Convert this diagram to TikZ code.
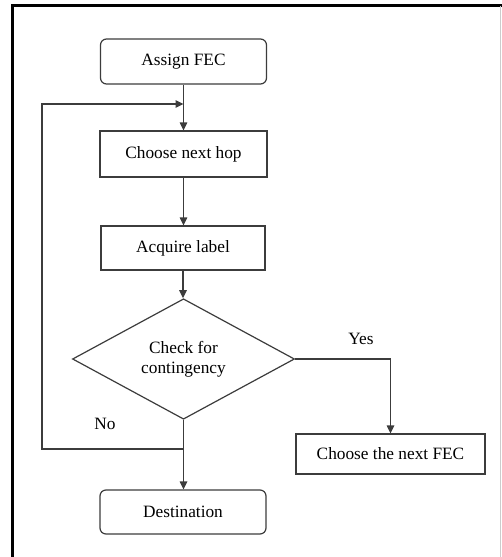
\documentclass[tikz,border=0pt]{standalone}
\usepackage{fontspec}
\setmainfont{Liberation Serif}
\usetikzlibrary{shapes.geometric, arrows.meta}
\definecolor{linegray}{HTML}{3c3c3c}

\begin{document}
\begin{tikzpicture}[
			x=1pt, y=-1pt,
			font=\fontsize{17.3}{20}\selectfont,
			line/.style={draw=linegray, line width=1.2pt},
			flow/.style={line, -{Triangle[length=8pt, width=7.5pt]}},
			box/.style={line, fill=white, minimum width=#1, minimum height=45pt,
				inner sep=0pt, align=center},
			roundbox/.style={box=#1, rounded corners=6pt},
			decision/.style={line, diamond, fill=white, minimum width=222pt,
				minimum height=118pt, inner sep=0pt, align=center}
			]

			\useasboundingbox (0,0) rectangle (502,557);
			% frame
			\draw[line width=2.2pt, black] (12.5,557) -- (12.5,5.5) -- (502,5.5);
			\draw[line width=0.8pt, black!20] (500,5.5) -- (500,557);

			\node[roundbox=166pt] (assign) at (183.5,61.5) {Assign FEC};
			\node[box=167pt, minimum height=46pt] (hop) at (183.5,154) {Choose next hop};
			\node[box=164pt, minimum height=44pt] (acquire) at (183,248) {Acquire label};
			\node[decision] (check) at (183.5,359) {Check for\\contingency};
			\node[box=189pt, minimum height=40pt] (nextfec) at (390.5,454) {Choose the next FEC};
			\node[roundbox=166pt, minimum height=44pt] (dest) at (183,512) {Destination};

			\coordinate (nojoin) at (183.5,449);
			\coordinate (loopbot) at (42,449);
			\coordinate (looptop) at (183.5,104);

			\draw[flow] (assign) -- (hop);
			\draw[flow] (hop) -- (hop |- acquire.north);
			\draw[flow] (acquire) -- (acquire |- check.north);
			\draw[flow] (check) -- (check |- dest.north);
			\draw[flow] (check.east) -| (nextfec.north);
			\draw[flow] (nojoin) -- (loopbot) |- (looptop);

			\node (yes) at (361,339) {Yes};
			\node (no) at (105,424) {No};

		\end{tikzpicture}
\end{document}
